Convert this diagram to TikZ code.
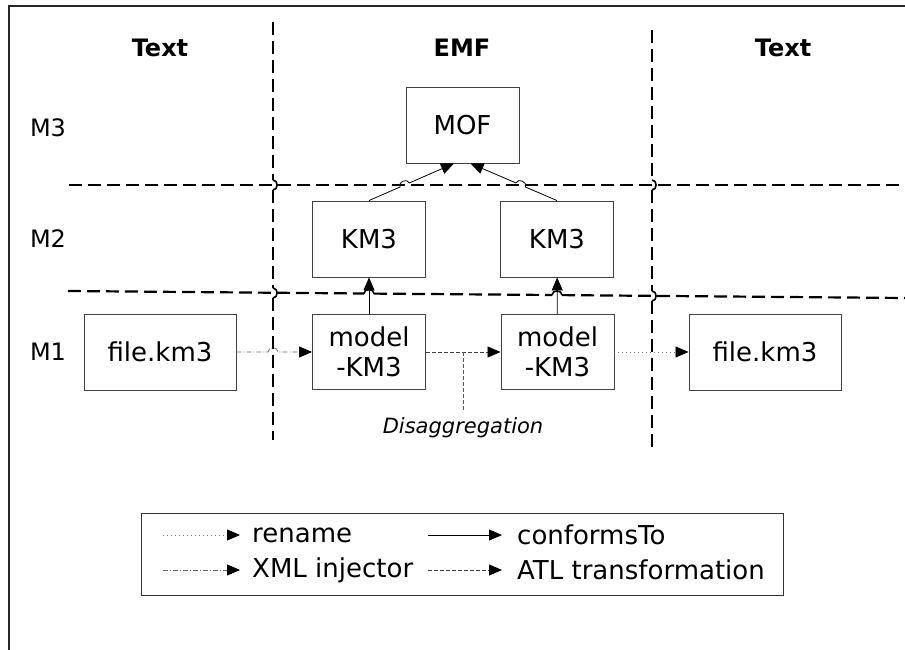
\documentclass[tikz,border=0pt]{standalone}
\usepackage{fontspec}
\setmainfont{DejaVu Sans}
\usetikzlibrary{arrows.meta,calc}
\begin{document}
\begin{tikzpicture}[x=1pt,y=-1pt,
  box/.style={draw=black!75, line width=0.9pt, minimum width=113pt, minimum height=76pt,
    inner sep=0pt, font=\fontsize{26}{30}\selectfont, align=center},
  filebox/.style={box, minimum width=152pt},
  sep/.style={line width=2.2pt, dash pattern=on 13pt off 6pt},
  hop/.style={line width=1.6pt},
  tip/.style={-{Triangle[length=13pt,width=11pt,color=black]}},
  conf/.style={tip, line width=0.8pt},
  atl/.style={tip, line width=0.8pt, black!75, dash pattern=on 4pt off 2pt},
  atlplain/.style={line width=0.8pt, black!65, dash pattern=on 4pt off 2pt},
  xmlinj/.style={tip, line width=0.8pt, black!60, dash pattern=on 5pt off 2pt on 1pt off 2pt},
  ren/.style={tip, line width=0.8pt, black!55, dash pattern=on 1pt off 3pt},
  header/.style={font=\fontsize{24}{28}\selectfont\bfseries},
  level/.style={font=\fontsize{24}{28}\selectfont},
  legtext/.style={font=\fontsize{26}{30}\selectfont, anchor=west, inner sep=0pt}
]
\useasboundingbox (0,0) rectangle (905,650);
% frame
\draw[line width=2.6pt, black!85] (9,650) -- (9,6) -- (905,6);

% headers and levels
\node[header] (h1) at (160,48) {Text};
\node[header] (h2) at (462,48) {EMF};
\node[header] (h3) at (783,48) {Text};
\node[level] (m3) at (48,128) {M3};
\node[level] (m2) at (48,239) {M2};
\node[level] (m1) at (48,352) {M1};

% separators
\draw[sep] (69,185) -- (905,185);
\draw[sep] (68,291) -- (364,293.5);
\draw[hop] (364,293.5) to[bend left=90,looseness=1.4] (374,293.6);
\draw[sep] (374,293.6) -- (552,295);
\draw[hop] (552,295) to[bend left=90,looseness=1.4] (562,295.1);
\draw[sep] (562,295.1) -- (905,298);

\draw[sep] (273,22) -- (273,180);
\draw[hop] (273,180) to[bend left=90,looseness=1.4] (273,190);
\draw[sep] (273,190) -- (273,288);
\draw[hop] (273,288) to[bend left=90,looseness=1.4] (273,298);
\draw[sep] (273,298) -- (273,440);

\draw[sep] (652,30) -- (652,180);
\draw[hop] (652,180) to[bend left=90,looseness=1.4] (652,190);
\draw[sep] (652,190) -- (652,291);
\draw[hop] (652,291) to[bend left=90,looseness=1.4] (652,301);
\draw[sep] (652,301) -- (652,448);

% boxes
\node[box, fill=white] (MOF) at (462.5,125) {MOF};
\node[box, fill=white] (KM3L) at (369,239) {KM3};
\node[box, fill=white] (KM3R) at (557,239) {KM3};
\node[filebox, fill=white] (fileL) at (160,352) {file.km3};
\node[box, fill=white, minimum height=75pt] (modelL) at (369,352) {model\\-KM3};
\node[box, fill=white, minimum height=75pt] (modelR) at (557.5,352) {model\\-KM3};
\node[filebox, fill=white] (fileR) at (765,352) {file.km3};

% conformsTo
\coordinate (mofL) at ([xshift=-8.5pt]MOF.south);
\coordinate (mofR) at ([xshift=8pt]MOF.south);
\draw[conf] (modelL) -- (KM3L);
\draw[conf] (modelR) -- (KM3R);
\draw[conf] (KM3L.north) -- ($(KM3L.north)!0.365!(mofL)$)
  to[bend left=90,looseness=1.4] ($(KM3L.north)!0.475!(mofL)$) -- (mofL);
\draw[conf] (KM3R.north) -- ($(KM3R.north)!0.365!(mofR)$)
  to[bend right=90,looseness=1.4] ($(KM3R.north)!0.475!(mofR)$) -- (mofR);

% M1 flow
\coordinate (hopA) at (268,352);
\coordinate (hopB) at (278,352);
\draw[xmlinj] (fileL.east) -- (hopA) to[bend left=90,looseness=1.4] (hopB) -- (modelL.west);
\draw[atl] (modelL.east) -- (modelR.west);
\draw[ren] (modelR.east) -- (fileR.west);

\coordinate (dj) at ($(modelL.east)!0.5!(modelR.west)$);
\node[font=\fontsize{21}{24}\selectfont\itshape, inner sep=7pt] (dis) at (463,428) {Disaggregation};
\draw[atlplain] (dj) -- (dj |- dis.north);

% legend
\node[draw=black!80, line width=0.9pt, minimum width=642pt, minimum height=82pt, inner sep=0pt] (legend) at (462,554) {};
\coordinate (r1a) at (163,535); \coordinate (r1b) at (240,535);
\coordinate (r2a) at (163,570); \coordinate (r2b) at (240,570);
\coordinate (c1a) at (428,535); \coordinate (c1b) at (502,535);
\coordinate (c2a) at (428,570); \coordinate (c2b) at (502,570);
\draw[ren] (r1a) -- (r1b);
\draw[xmlinj] (r2a) -- (r2b);
\draw[conf] (c1a) -- (c1b);
\draw[atl] (c2a) -- (c2b);
\node[legtext] (t1) at (252,535) {rename};
\node[legtext] (t2) at (252,570) {XML injector};
\node[legtext] (t3) at (517,535) {conformsTo};
\node[legtext] (t4) at (517,570) {ATL transformation};
\end{tikzpicture}
\end{document}
